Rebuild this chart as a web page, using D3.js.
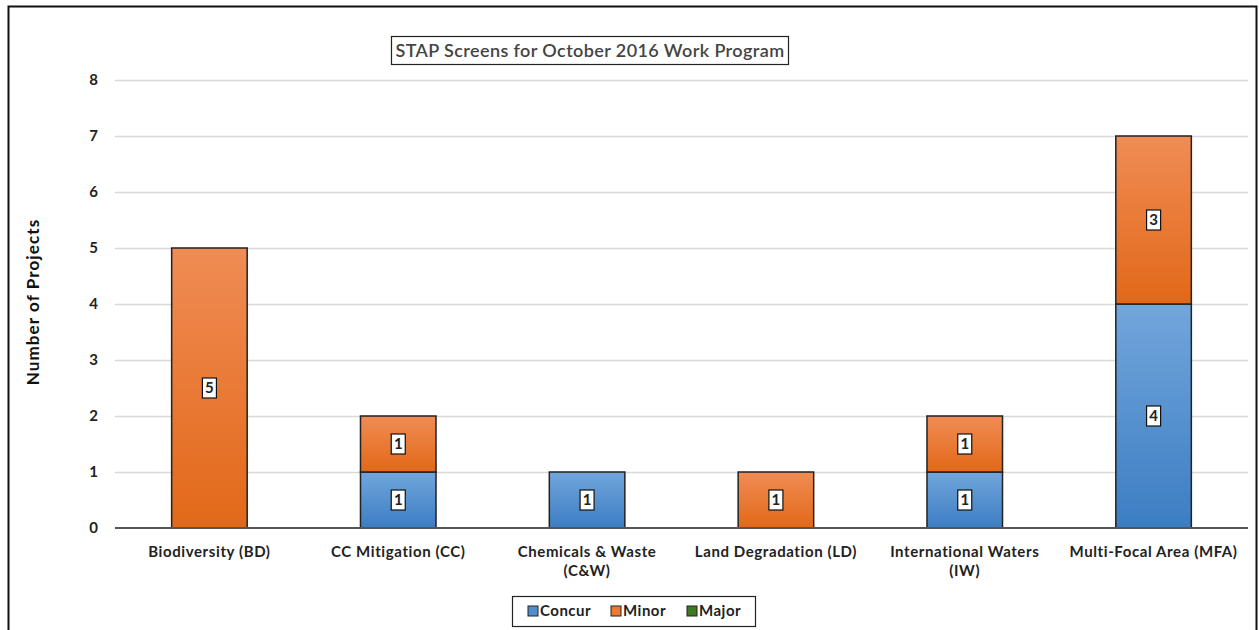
<!DOCTYPE html>
<html>
<head>
<meta charset="utf-8">
<script src="https://cdn.jsdelivr.net/npm/d3@7"></script>
<style>
  body { margin: 0; background: #fff; }
  svg { display: block; font-family: Lato, "Open Sans", sans-serif; }
</style>
</head>
<body>
<svg id="chart" width="1259" height="630"></svg>
<script>
// chart data
var categories = ["Biodiversity (BD)", "CC Mitigation (CC)", "Chemicals & Waste (C&W)",
                  "Land Degradation (LD)", "International Waters (IW)", "Multi-Focal Area (MFA)"];
var labelLines = [["Biodiversity (BD)"], ["CC Mitigation (CC)"], ["Chemicals & Waste", "(C&W)"],
                  ["Land Degradation (LD)"], ["International Waters", "(IW)"], ["Multi-Focal Area (MFA)"]];
var concur = [0, 1, 1, 0, 1, 4];
var minor  = [5, 1, 0, 1, 1, 3];
var major  = [0, 0, 0, 0, 0, 0];
var seriesNames = ["Concur", "Minor", "Major"];
var yTicks = [0, 1, 2, 3, 4, 5, 6, 7, 8];

var svg = d3.select("#chart");
var margin = {left: 115, right: 1248, top: 80, bottom: 528};

var rows = categories.map(function(c, i){
  return {cat: c, Concur: concur[i], Minor: minor[i], Major: major[i]};
});

var x = d3.scaleBand().domain(categories).range([margin.left, margin.right]).paddingInner(0.6).paddingOuter(0.3);
var y = d3.scaleLinear().domain([0, 8]).range([margin.bottom, margin.top]);

// gradients
var defs = svg.append("defs");
var grads = [
  {id: "gConcur", top: "#72a6dc", bot: "#3c7dc2"},
  {id: "gMinor", top: "#f08c55", bot: "#e26818"},
  {id: "gMajor", top: "#5a8a3a", bot: "#38661e"}
];
grads.forEach(function(g){
  var lg = defs.append("linearGradient").attr("id", g.id)
    .attr("x1", 0).attr("y1", 0).attr("x2", 0).attr("y2", 1);
  lg.append("stop").attr("offset", "0%").attr("stop-color", g.top);
  lg.append("stop").attr("offset", "100%").attr("stop-color", g.bot);
});

// outer border
svg.append("rect").attr("x", 8.5).attr("y", 6.5).attr("width", 1248).attr("height", 640)
  .attr("fill", "none").attr("stroke", "#111").attr("stroke-width", 2);

// grid
svg.append("g").selectAll("line").data(yTicks.slice(1)).enter().append("line")
  .attr("x1", margin.left).attr("x2", margin.right)
  .attr("y1", function(d){ return Math.round(y(d)) + 0.5; })
  .attr("y2", function(d){ return Math.round(y(d)) + 0.5; })
  .attr("stroke", "#d9d9d9").attr("stroke-width", 1.5);

// y axis labels
var yAxis = d3.axisLeft(y).tickValues(yTicks).tickSize(0).tickPadding(0);
var yg = svg.append("g").attr("transform", "translate(98,0)").call(yAxis);
yg.select(".domain").remove();
yg.selectAll("text").attr("font-size", 15).attr("font-weight", "bold").attr("fill", "#222")
  .attr("font-family", "Lato, sans-serif");

// stacked bars
var stack = d3.stack().keys(seriesNames);
var stacked = stack(rows);
var fills = {Concur: "url(#gConcur)", Minor: "url(#gMinor)", Major: "url(#gMajor)"};

stacked.forEach(function(layer){
  svg.append("g").selectAll("rect").data(layer.filter(function(d){ return d[1] - d[0] > 0; }))
    .enter().append("rect")
    .attr("x", function(d){ return x(d.data.cat); })
    .attr("width", x.bandwidth())
    .attr("y", function(d){ return y(d[1]); })
    .attr("height", function(d){ return y(d[0]) - y(d[1]); })
    .attr("fill", fills[layer.key])
    .attr("stroke", "#222").attr("stroke-width", 1.5);
});

// data labels
stacked.forEach(function(layer){
  var g = svg.append("g").selectAll("g").data(layer.filter(function(d){ return d[1] - d[0] > 0; }))
    .enter().append("g")
    .attr("transform", function(d){
      return "translate(" + (x(d.data.cat) + x.bandwidth() / 2) + "," + y((d[0] + d[1]) / 2) + ")";
    });
  g.append("rect").attr("x", -7).attr("y", -10).attr("width", 14).attr("height", 20)
    .attr("fill", "#fff").attr("stroke", "#111").attr("stroke-width", 1.2);
  g.append("text").attr("text-anchor", "middle").attr("dy", "0.36em")
    .attr("font-size", 15).attr("font-weight", "bold").attr("fill", "#222")
    .text(function(d){ return d[1] - d[0]; });
});

// baseline
svg.append("line").attr("x1", margin.left).attr("x2", margin.right)
  .attr("y1", y(0)).attr("y2", y(0)).attr("stroke", "#555").attr("stroke-width", 2);

// category labels
var xl = svg.append("g").selectAll("text").data(categories).enter().append("text")
  .attr("x", function(d){ return x(d) + x.bandwidth() / 2; })
  .attr("y", 557)
  .attr("text-anchor", "middle").attr("font-size", 15).attr("font-weight", "bold").attr("fill", "#222")
  .attr("letter-spacing", 0.6);
xl.each(function(d, i){
  var t = d3.select(this);
  labelLines[i].forEach(function(line, j){
    t.append("tspan").attr("x", x(d) + x.bandwidth() / 2).attr("dy", j === 0 ? 0 : 19).text(line);
  });
});

// y title
svg.append("text").attr("transform", "translate(39,302) rotate(-90)")
  .attr("text-anchor", "middle").attr("font-size", 17).attr("font-weight", "bold").attr("fill", "#111")
  .attr("letter-spacing", 1.1)
  .text("Number of Projects");

// chart title
svg.append("rect").attr("x", 391.5).attr("y", 36.5).attr("width", 397).attr("height", 28)
  .attr("fill", "#fff").attr("stroke", "#222").attr("stroke-width", 1.2);
svg.append("text").attr("x", 590).attr("y", 56.5).attr("text-anchor", "middle")
  .attr("font-size", 18).attr("fill", "#444").attr("font-weight", "600").attr("letter-spacing", 0.4)
  .text("STAP Screens for October 2016 Work Program");

// legend
var legendColors = {Concur: "#4f8fd0", Minor: "#ec7a2e", Major: "#3f7a22"};
svg.append("rect").attr("x", 512.5).attr("y", 596.5).attr("width", 243).attr("height", 30)
  .attr("fill", "#fff").attr("stroke", "#222").attr("stroke-width", 1.2);
var legX = [528, 611, 687];
var leg = svg.append("g").selectAll("g").data(seriesNames).enter().append("g")
  .attr("transform", function(d, i){ return "translate(" + legX[i] + ",611)"; });
leg.append("rect").attr("x", 0).attr("y", -5).attr("width", 10).attr("height", 10)
  .attr("fill", function(d){ return legendColors[d]; }).attr("stroke", "#222").attr("stroke-width", 1);
leg.append("text").attr("x", 12).attr("dy", "0.36em").attr("font-size", 15).attr("font-weight", "bold")
  .attr("letter-spacing", 0.5)
  .attr("fill", "#222").text(function(d){ return d; });
</script>
</body>
</html>
